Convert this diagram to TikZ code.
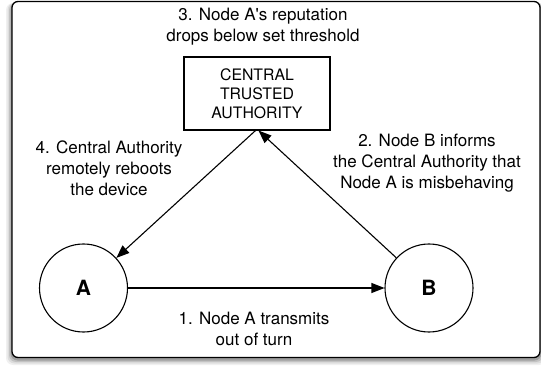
\documentclass[tikz,border=0pt]{standalone}
\usepackage{fontspec}
\setmainfont{TeX Gyre Heros}
\usepackage{tikz}
\usetikzlibrary{arrows.meta,shapes}
\tikzset{x=1pt,y=-1pt,
    lbl/.style={align=center,font=\fontsize{17}{21}\selectfont},
    peer/.style={draw,circle,line width=1.1pt,minimum size=88pt,inner sep=0pt,font=\fontsize{21}{24}\selectfont\bfseries},
    conn/.style={line width=1.1pt,-{Triangle[length=13pt,width=10pt]}},}

\begin{document}
\begin{tikzpicture}
  \useasboundingbox (0,0) rectangle (541,366);
  % shadow round the frame
  \foreach \s/\o in {6/0.06,4.5/0.08,3/0.12,1.5/0.18}
    \fill[black,opacity=\o,rounded corners=7pt] (12-\s,3) rectangle (540+\s,359+\s);
  \draw[fill=white,line width=1.3pt,rounded corners=6pt] (12,1.5) rectangle (540,357.5);
  \node[draw,line width=1.1pt,minimum width=146pt,minimum height=73pt,align=center,
    font=\fontsize{15.8}{19}\selectfont] (cta) at (257,93.5) {CENTRAL\\TRUSTED\\AUTHORITY};
  \node[peer] (a) at (83.5,288) {A};
  \node[peer] (b) at (429,288) {B};
  \coordinate (ca) at ([xshift=-1.5pt]cta.south);
  \coordinate (cb) at ([xshift=1.5pt]cta.south);
  \draw[conn] (a)--(b);
  \draw[conn] (b)--(cb);
  \draw[conn] (ca)--(a);
  \node[lbl] (t3) at (263,26.5) {3. Node A\textquotesingle s reputation\\drops below set threshold};
  \node[lbl] (t4) at (109,168) {4. Central Authority\\remotely reboots\\the device};
  \node[lbl] (t2) at (427,163.5) {2. Node B informs\\the Central Authority that\\Node A is misbehaving};
  \node[lbl] (t1) at (254,328.5) {1. Node A transmits\\out of turn};
\end{tikzpicture}
\end{document}
